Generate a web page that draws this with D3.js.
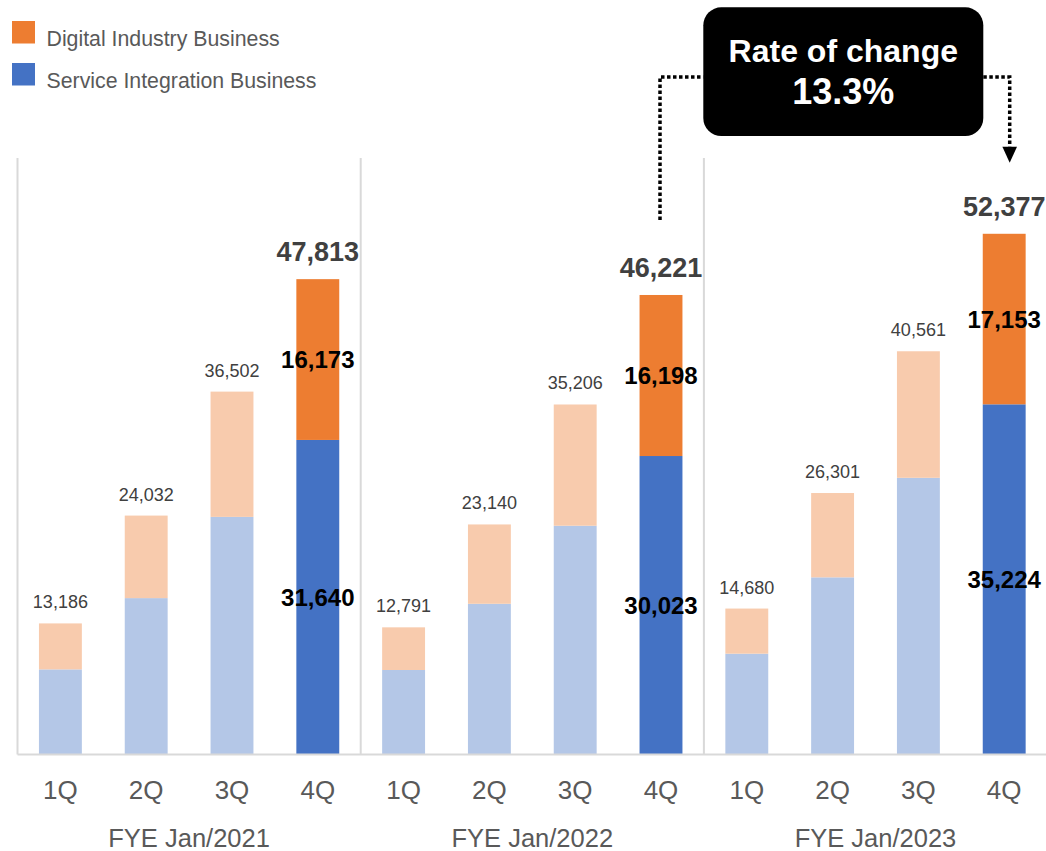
<!DOCTYPE html>
<html>
<head>
<meta charset="utf-8">
<script src="https://cdn.jsdelivr.net/npm/d3@7"></script>
<style>
  html, body { margin: 0; padding: 0; background: #fff; }
  svg { display: block; font-family: Arial, "Liberation Sans", Helvetica, sans-serif; }
</style>
</head>
<body>
<svg id="chart" width="1046" height="851"></svg>
<script>
// Quarterly net sales by segment (millions of yen)
const fiscalYears = ["FYE Jan/2021", "FYE Jan/2022", "FYE Jan/2023"];
const quarters = ["1Q", "2Q", "3Q", "4Q"];
const serviceIntegration = [8560, 15730, 23900, 31640, 8500, 15160, 23010, 30023, 10140, 17820, 27830, 35224];
const digitalIndustry    = [4626, 8302, 12602, 16173, 4291, 7980, 12196, 16198, 4540, 8481, 12731, 17153];
const seriesNames = ["Digital Industry Business", "Service Integration Business"];

const fmt = d3.format(",");
const rows = [];
fiscalYears.forEach((fy, g) => quarters.forEach((q, i) => {
  const k = g * 4 + i;
  rows.push({ key: fy + "|" + q, fy, q, g, i,
    service: serviceIntegration[k], digital: digitalIndustry[k],
    total: serviceIntegration[k] + digitalIndustry[k], full: i === 3 });
}));

const svg = d3.select("#chart");
const x = d3.scaleBand().domain(rows.map(r => r.key)).range([17.5, 1047.1])
  .paddingInner(0.5).paddingOuter(0.25);
const y = d3.scaleLinear().domain([0, 60000]).range([754.5, 158]);
const step = x.step(), bw = x.bandwidth();
const groupStart = g => x(fiscalYears[g] + "|1Q") - (step - bw) / 2;

const colors = {
  service: "#4472C4", digital: "#ED7D31",
  serviceLight: "#B4C7E7", digitalLight: "#F8CBAD"
};

// group separators
svg.append("g").selectAll("line").data(fiscalYears).join("line")
  .attr("x1", (d, g) => groupStart(g)).attr("x2", (d, g) => groupStart(g))
  .attr("y1", y(60000)).attr("y2", y(0))
  .attr("stroke", "#d9d9d9").attr("stroke-width", 2);

// stacked bars
const bars = svg.append("g").selectAll("g").data(rows).join("g");
bars.append("rect")
  .attr("x", d => x(d.key)).attr("width", bw)
  .attr("y", d => y(d.service)).attr("height", d => y(0) - y(d.service))
  .attr("fill", d => d.full ? colors.service : colors.serviceLight);
bars.append("rect")
  .attr("x", d => x(d.key)).attr("width", bw)
  .attr("y", d => y(d.total)).attr("height", d => y(d.service) - y(d.total))
  .attr("fill", d => d.full ? colors.digital : colors.digitalLight);

// baseline
svg.append("line").attr("x1", 17.5).attr("x2", 1046).attr("y1", y(0)).attr("y2", y(0))
  .attr("stroke", "#d9d9d9").attr("stroke-width", 2);

// total labels
bars.append("text")
  .attr("x", d => x(d.key) + bw / 2)
  .attr("y", d => y(d.total) - (d.full ? 18 : 15))
  .attr("text-anchor", "middle")
  .attr("fill", "#404040")
  .attr("font-size", d => d.full ? 27 : 18)
  .attr("font-weight", d => d.full ? "bold" : "normal")
  .text(d => fmt(d.total));

// segment labels on the fourth-quarter bars
const full = bars.filter(d => d.full);
full.append("text")
  .attr("x", d => x(d.key) + bw / 2)
  .attr("y", d => (y(d.service) + y(d.total)) / 2 + 8.5)
  .attr("text-anchor", "middle").attr("font-size", 24).attr("font-weight", "bold")
  .attr("fill", "#000").text(d => fmt(d.digital));
full.append("text")
  .attr("x", d => x(d.key) + bw / 2)
  .attr("y", d => (y(0) + y(d.service)) / 2 + 8.5)
  .attr("text-anchor", "middle").attr("font-size", 24).attr("font-weight", "bold")
  .attr("fill", "#000").text(d => fmt(d.service));

// quarter labels
svg.append("g").selectAll("text").data(rows).join("text")
  .attr("x", d => x(d.key) + bw / 2).attr("y", 798.5)
  .attr("text-anchor", "middle").attr("font-size", 26).attr("fill", "#595959")
  .text(d => d.q);

// fiscal year labels
svg.append("g").selectAll("text").data(fiscalYears).join("text")
  .attr("x", (d, g) => groupStart(g) + step * 2).attr("y", 846.5)
  .attr("text-anchor", "middle").attr("font-size", 25.5).attr("fill", "#595959")
  .text(d => d);

// legend
const legend = svg.append("g").selectAll("g").data(seriesNames).join("g")
  .attr("transform", (d, i) => `translate(12, ${21 + i * 42})`);
legend.append("rect").attr("width", 23).attr("height", 22.5)
  .attr("fill", (d, i) => i === 0 ? colors.digital : colors.service);
legend.append("text").attr("x", 34.5).attr("y", 24.5)
  .attr("font-size", 21.3).attr("fill", "#595959").text(d => d);

// year-over-year change of the fourth quarter
const prev = rows.find(r => r.fy === fiscalYears[1] && r.q === "4Q");
const curr = rows.find(r => r.fy === fiscalYears[2] && r.q === "4Q");
const rate = curr.total / prev.total - 1;

const box = { x: 703.3, y: 7.3, w: 280, h: 128.7 };
const lineY = 77;
const leftX = x(prev.key) + bw / 2 - 1;
const rightX = x(curr.key) + bw / 2 + 5.5;

const conn = svg.append("g").attr("fill", "none").attr("stroke", "#000")
  .attr("stroke-width", 3.5).attr("stroke-dasharray", "3.5,2.5");
conn.append("path").attr("d", `M${leftX},${y(prev.total) - 75} V${lineY} H${box.x}`);
conn.append("path").attr("d", `M${box.x + box.w},${lineY} H${rightX} V${y(curr.total) - 87}`);
svg.append("path")
  .attr("d", `M${rightX - 7.3},${y(curr.total) - 87} H${rightX + 7.3} L${rightX},${y(curr.total) - 71} Z`)
  .attr("fill", "#000");

svg.append("rect").attr("x", box.x).attr("y", box.y).attr("width", box.w).attr("height", box.h)
  .attr("rx", 18).attr("fill", "#000");
svg.append("text").attr("x", box.x + box.w / 2).attr("y", 61.7)
  .attr("text-anchor", "middle").attr("font-size", 32).attr("font-weight", "bold")
  .attr("fill", "#fff").text("Rate of change");
svg.append("text").attr("x", box.x + box.w / 2).attr("y", 104)
  .attr("text-anchor", "middle").attr("font-size", 36).attr("font-weight", "bold")
  .attr("fill", "#fff").text(d3.format(".1%")(rate));
</script>
</body>
</html>
